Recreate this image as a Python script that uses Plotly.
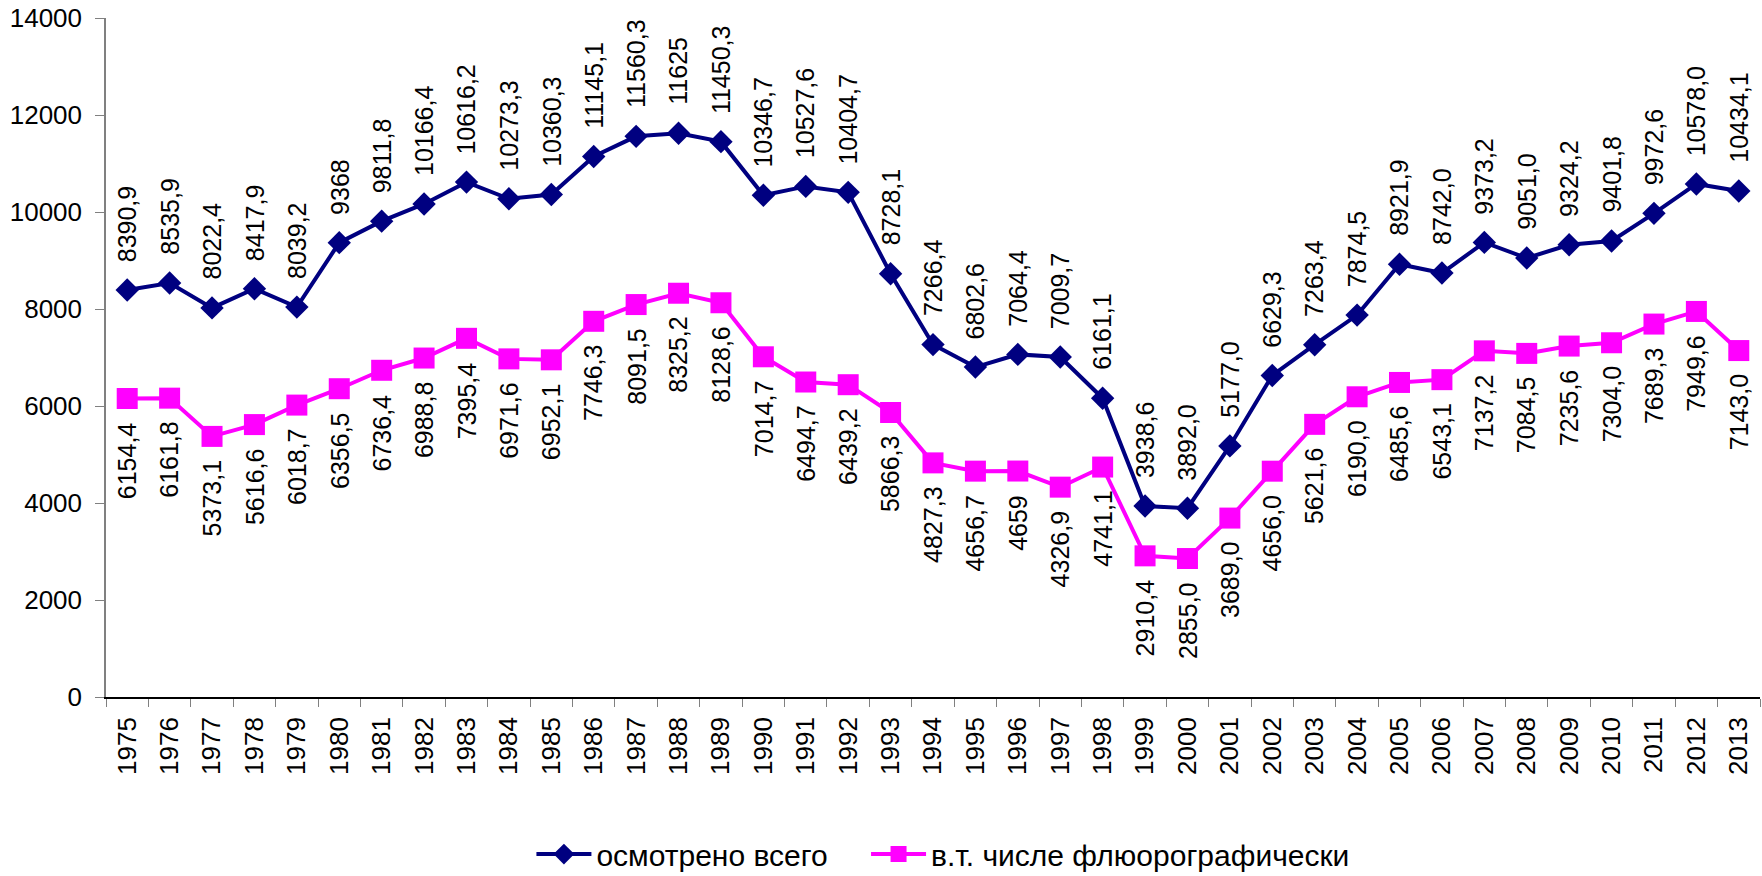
import plotly.graph_objects as go

years = [str(y) for y in range(1975, 2014)]

total = [8390.9, 8535.9, 8022.4, 8417.9, 8039.2, 9368, 9811.8, 10166.4, 10616.2, 10273.3,
         10360.3, 11145.1, 11560.3, 11625, 11450.3, 10346.7, 10527.6, 10404.7, 8728.1, 7266.4,
         6802.6, 7064.4, 7009.7, 6161.1, 3938.6, 3892.0, 5177.0, 6629.3, 7263.4, 7874.5,
         8921.9, 8742.0, 9373.2, 9051.0, 9324.2, 9401.8, 9972.6, 10578.0, 10434.1]
total_labels = ["8390,9", "8535,9", "8022,4", "8417,9", "8039,2", "9368", "9811,8", "10166,4",
                "10616,2", "10273,3", "10360,3", "11145,1", "11560,3", "11625", "11450,3",
                "10346,7", "10527,6", "10404,7", "8728,1", "7266,4", "6802,6", "7064,4",
                "7009,7", "6161,1", "3938,6", "3892,0", "5177,0", "6629,3", "7263,4", "7874,5",
                "8921,9", "8742,0", "9373,2", "9051,0", "9324,2", "9401,8", "9972,6",
                "10578,0", "10434,1"]

fluoro = [6154.4, 6161.8, 5373.1, 5616.6, 6018.7, 6356.5, 6736.4, 6988.8, 7395.4, 6971.6,
          6952.1, 7746.3, 8091.5, 8325.2, 8128.6, 7014.7, 6494.7, 6439.2, 5866.3, 4827.3,
          4656.7, 4659, 4326.9, 4741.1, 2910.4, 2855.0, 3689.0, 4656.0, 5621.6, 6190.0,
          6485.6, 6543.1, 7137.2, 7084.5, 7235.6, 7304.0, 7689.3, 7949.6, 7143.0]
fluoro_labels = ["6154,4", "6161,8", "5373,1", "5616,6", "6018,7", "6356,5", "6736,4", "6988,8",
                 "7395,4", "6971,6", "6952,1", "7746,3", "8091,5", "8325,2", "8128,6", "7014,7",
                 "6494,7", "6439,2", "5866,3", "4827,3", "4656,7", "4659", "4326,9", "4741,1",
                 "2910,4", "2855,0", "3689,0", "4656,0", "5621,6", "6190,0", "6485,6", "6543,1",
                 "7137,2", "7084,5", "7235,6", "7304,0", "7689,3", "7949,6", "7143,0"]

series_names = ["осмотрено всего", "в.т. числе флюорографически"]

NAVY = "#000080"
MAGENTA = "#FF00FF"
FONT = "Liberation Sans"
NBSP = "\u00a0"

fig = go.Figure()
fig.add_trace(go.Scatter(x=years, y=total, mode="lines+markers", name=series_names[0] + NBSP * 4,
                         line=dict(color=NAVY, width=4),
                         marker=dict(symbol="diamond", size=18, color=NAVY)))
fig.add_trace(go.Scatter(x=years, y=fluoro, mode="lines+markers", name=series_names[1],
                         line=dict(color=MAGENTA, width=4),
                         marker=dict(symbol="square", size=21, color=MAGENTA)))

# annotations on a category axis: use the category index
for i, (v, t) in enumerate(zip(total, total_labels)):
    fig.add_annotation(x=i, y=v, xref="x", yref="y", text=t, showarrow=False,
                       textangle=-90, yanchor="bottom", xanchor="center", yshift=26,
                       font=dict(size=25, color="black", family=FONT))
for i, (v, t) in enumerate(zip(fluoro, fluoro_labels)):
    fig.add_annotation(x=i, y=v, xref="x", yref="y", text=t, showarrow=False,
                       textangle=-90, yanchor="top", xanchor="center", yshift=-22,
                       font=dict(size=25, color="black", family=FONT))

fig.update_layout(
    width=1762, height=876,
    paper_bgcolor="white", plot_bgcolor="white",
    margin=dict(l=106, r=2, t=18, b=179),
    font=dict(family=FONT, size=24, color="black"),
    showlegend=True,
    legend=dict(orientation="h", x=0.506, xanchor="center",
                yref="container", y=0.025, yanchor="middle",
                font=dict(size=30, family=FONT),
                itemwidth=55, bgcolor="rgba(0,0,0,0)"),
)
fig.update_xaxes(type="category", range=[-0.5, 38.5], tickangle=-90, tickson="boundaries",
                 ticks="outside", ticklen=8, tickcolor="#808080", tickwidth=1,
                 showline=True, linecolor="black", linewidth=1.5, showgrid=False,
                 tickfont=dict(size=26), zeroline=False, automargin=False,
                 ticklabelstandoff=8)
fig.update_yaxes(range=[0, 14000], dtick=2000, tickformat="d", ticks="outside", ticklen=9,
                 tickcolor="#808080", showline=True, linecolor="#808080", linewidth=1.5,
                 showgrid=False, zeroline=False, tickfont=dict(size=26), automargin=False,
                 ticklabelstandoff=8)

fig.write_html("out.html", config={"displayModeBar": False},
               post_script="document.body.style.margin='0';document.body.style.overflow='hidden';")
